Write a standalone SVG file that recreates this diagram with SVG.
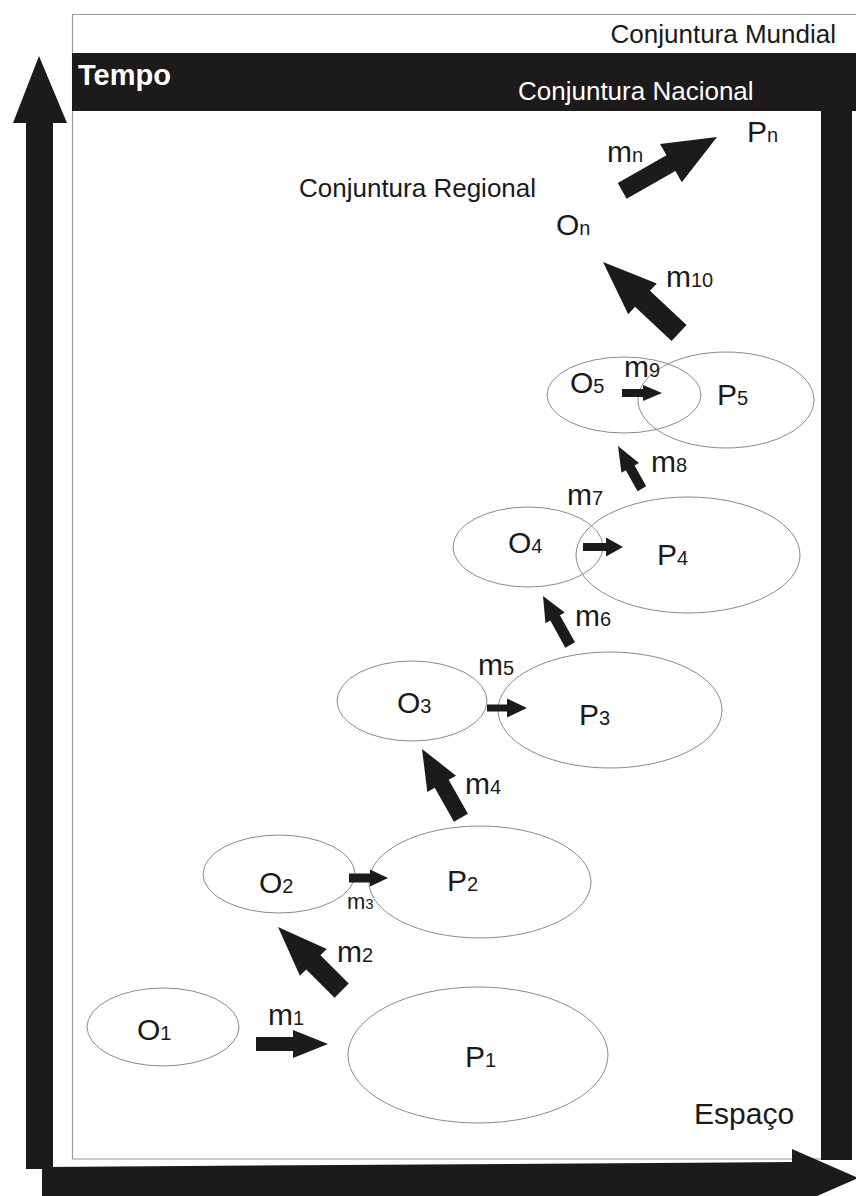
<svg xmlns="http://www.w3.org/2000/svg" width="856" height="1196" viewBox="0 0 856 1196">
<style>
text{font-family:"Liberation Sans",Arial,sans-serif;fill:#1a1a1a}
.lbl{font-size:30px}
.sub{font-size:20px}
.sm{font-size:22px}
.smsub{font-size:15px}
.ctx{font-size:26px}
.white{fill:#ffffff}
.node{fill:none;stroke:#8a8a8a;stroke-width:1}
.arrow{fill:#1c1a1a}
.band{fill:#1c1a1a}
.frame{fill:none;stroke:#9a9a9a;stroke-width:1.2}
</style>
<rect width="856" height="1196" fill="#ffffff"/>
<g id="frame">
  <path class="frame" d="M856,14.5 H72.5 V1159 H822"/>
  <rect class="band" x="72" y="53" width="784" height="58"/>
  <rect class="band" x="821" y="53" width="31" height="1107"/>
  <text class="ctx" x="836" y="43" text-anchor="end">Conjuntura Mundial</text>
  <text class="ctx white" x="518" y="100">Conjuntura Nacional</text>
  <text class="white" x="78" y="85" font-size="29" font-weight="bold">Tempo</text>
  <text class="ctx" x="299" y="197">Conjuntura Regional</text>
  <text class="lbl" x="694" y="1124">Espaço</text>
</g>
<g id="axes">
  <polygon id="axis-tempo" class="arrow" points="39,56 67,123 53,123 53,1169 26,1169 26,123 13,123"/>
  <polygon id="axis-espaco" class="arrow" points="42,1167 792,1162 792,1149 858,1178 792,1207 792,1200 42,1200"/>
</g>
<g id="O1"><ellipse class="node" cx="163" cy="1027" rx="76" ry="39"/><text class="lbl" x="137" y="1040">O<tspan class="sub">1</tspan></text></g>
<g id="P1"><ellipse class="node" cx="478" cy="1055" rx="130" ry="68"/><text class="lbl" x="465" y="1067">P<tspan class="sub">1</tspan></text></g>
<g id="O2"><ellipse class="node" cx="279" cy="874" rx="76" ry="39"/><text class="lbl" x="259" y="893">O<tspan class="sub">2</tspan></text></g>
<g id="P2"><ellipse class="node" cx="480" cy="882" rx="111" ry="56"/><text class="lbl" x="447" y="891">P<tspan class="sub">2</tspan></text></g>
<g id="O3"><ellipse class="node" cx="412" cy="701" rx="75" ry="40"/><text class="lbl" x="397" y="713">O<tspan class="sub">3</tspan></text></g>
<g id="P3"><ellipse class="node" cx="610" cy="710" rx="112" ry="58"/><text class="lbl" x="579" y="725">P<tspan class="sub">3</tspan></text></g>
<g id="O4"><ellipse class="node" cx="528" cy="547" rx="75" ry="40"/><text class="lbl" x="508" y="553">O<tspan class="sub">4</tspan></text></g>
<g id="P4"><ellipse class="node" cx="688" cy="555" rx="112" ry="58"/><text class="lbl" x="657" y="565">P<tspan class="sub">4</tspan></text></g>
<g id="O5"><ellipse class="node" cx="624" cy="395" rx="77" ry="38"/><text class="lbl" x="570" y="393">O<tspan class="sub">5</tspan></text></g>
<g id="P5"><ellipse class="node" cx="726" cy="400" rx="88" ry="48"/><text class="lbl" x="717" y="405">P<tspan class="sub">5</tspan></text></g>
<g id="On"><text class="lbl" x="556" y="235">O<tspan class="sub">n</tspan></text></g>
<g id="Pn"><text class="lbl" x="747" y="142">P<tspan class="sub">n</tspan></text></g>
<g id="connectors">
  <polygon class="arrow" transform="translate(328,1044)" points="-72,-7 -35,-7 -35,-14 0,0 -35,14 -35,7 -72,7"/>
  <text class="lbl" x="268" y="1025">m<tspan class="sub">1</tspan></text>
  <polygon class="arrow" transform="translate(278,927) rotate(225)" points="-90,-10 -50,-10 -50,-19 0,0 -50,19 -50,10 -90,10"/>
  <text class="lbl" x="337" y="962">m<tspan class="sub">2</tspan></text>
  <polygon class="arrow" transform="translate(388,878)" points="-39,-4.5 -18,-4.5 -18,-8.5 0,0 -18,8.5 -18,4.5 -39,4.5"/>
  <text class="sm" x="347" y="909">m<tspan class="smsub">3</tspan></text>
  <polygon class="arrow" transform="translate(422,749) rotate(240.5)" points="-79,-8 -40,-8 -40,-16.5 0,0 -40,16.5 -40,8 -79,8"/>
  <text class="lbl" x="465" y="794">m<tspan class="sub">4</tspan></text>
  <polygon class="arrow" transform="translate(527,708)" points="-40,-3.5 -20,-3.5 -20,-9.5 0,0 -20,9.5 -20,3.5 -40,3.5"/>
  <text class="lbl" x="478" y="675">m<tspan class="sub">5</tspan></text>
  <polygon class="arrow" transform="translate(543,596) rotate(241)" points="-56,-5.5 -25,-5.5 -25,-11 0,0 -25,11 -25,5.5 -56,5.5"/>
  <text class="lbl" x="575" y="626">m<tspan class="sub">6</tspan></text>
  <polygon class="arrow" transform="translate(623,547)" points="-40,-4 -17,-4 -17,-9.5 0,0 -17,9.5 -17,4 -40,4"/>
  <text class="lbl" x="567" y="505">m<tspan class="sub">7</tspan></text>
  <polygon class="arrow" transform="translate(618,446) rotate(240.8)" points="-49,-5 -25,-5 -25,-10 0,0 -25,10 -25,5 -49,5"/>
  <text class="lbl" x="651" y="472">m<tspan class="sub">8</tspan></text>
  <polygon class="arrow" transform="translate(662,393)" points="-40,-4 -19,-4 -19,-8 0,0 -19,8 -19,4 -40,4"/>
  <text class="lbl" x="624" y="377">m<tspan class="sub">9</tspan></text>
  <polygon class="arrow" transform="translate(603,262) rotate(223)" points="-104,-11 -54,-11 -54,-21 0,0 -54,21 -54,11 -104,11"/>
  <text class="lbl" x="666" y="287">m<tspan class="sub">10</tspan></text>
  <polygon class="arrow" transform="translate(717,137) rotate(-29.6)" points="-109,-9 -53,-9 -53,-22 0,0 -53,22 -53,9 -109,9"/>
  <text class="lbl" x="607" y="162">m<tspan class="sub">n</tspan></text>
</g>
</svg>
